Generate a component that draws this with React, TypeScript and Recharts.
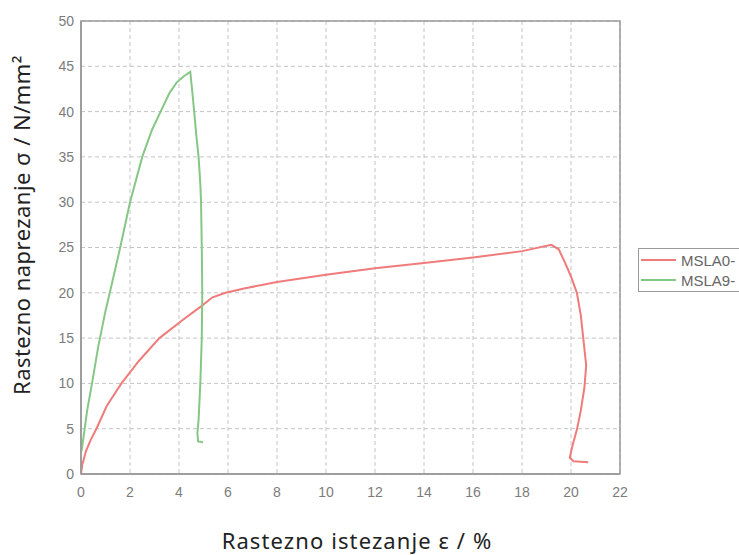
import React from "react";
import {
  CartesianGrid,
  Label,
  Legend,
  Line,
  LineChart,
  ReferenceArea,
  XAxis,
  YAxis,
} from "recharts";

// strain (%) vs stress (N/mm²)
const msla0Strain = [
  0, 0.05, 0.2, 0.4, 0.63, 1.05, 1.65, 2.37, 3.2, 4.15, 4.9, 5.37, 5.9, 6.7,
  8, 10, 12, 14, 16, 18, 19.2, 19.5, 19.76, 20.0, 20.24, 20.4, 20.5, 20.62,
  20.55, 20.4, 20.24, 20.05, 19.95, 20.1, 20.7,
];
const msla0Stress = [
  0, 1, 2.5, 3.8, 5, 7.5, 10, 12.5, 15, 17, 18.5, 19.5, 20, 20.5, 21.2, 22,
  22.7, 23.3, 23.9, 24.6, 25.3, 24.8, 23.3, 21.8, 20, 17.5, 15, 12, 9.6, 7,
  4.9, 3, 1.8, 1.4, 1.3,
];

const msla9Strain = [
  0.02, 0.1, 0.25, 0.45, 0.7, 1.0, 1.26, 1.6, 2.0, 2.5, 2.9, 3.25, 3.6, 3.9,
  4.2, 4.46, 4.55, 4.62, 4.72, 4.8, 4.87, 4.9, 4.93, 4.95, 4.93, 4.87, 4.8,
  4.75, 4.78, 4.98,
];
const msla9Stress = [
  2.5, 4, 7, 10, 14, 18, 21, 25, 30, 35, 38, 40, 42, 43.2, 43.9, 44.4, 42, 40,
  37, 35, 32, 30, 25, 20, 15, 10, 6, 4.5, 3.6, 3.5,
];

const xTicks = [0, 2, 4, 6, 8, 10, 12, 14, 16, 18, 20, 22];
const yTicks = [0, 5, 10, 15, 20, 25, 30, 35, 40, 45, 50];

const seriesNames = ["MSLA0-", "MSLA9-"];
const seriesColors = ["#f07b7b", "#85c785"];

const toPoints = (xs: number[], ys: number[]) =>
  xs.map((x, i) => ({ x, y: ys[i] }));

const msla0 = toPoints(msla0Strain, msla0Stress);
const msla9 = toPoints(msla9Strain, msla9Stress);

const tickStyle = {
  fontSize: 14,
  fill: "#7c7c7c",
  fontFamily: "Liberation Sans, Arial, sans-serif",
};

const LegendBox = () => (
  <div
    style={{
      border: "1.5px solid #9a9a9a",
      background: "#fff",
      width: 130,
      height: 44,
      boxSizing: "border-box",
      fontFamily: "Liberation Sans, Arial, sans-serif",
      fontSize: 15,
      color: "#666",
      paddingTop: 1,
    }}
  >
    {seriesNames.map((name, i) => (
      <div
        key={name}
        style={{ display: "flex", alignItems: "center", height: 20 }}
      >
        <span
          style={{
            display: "inline-block",
            width: 35,
            height: 2,
            background: seriesColors[i],
            marginLeft: 2,
            marginRight: 5,
          }}
        />
        <span>{name}</span>
      </div>
    ))}
  </div>
);

export default function App() {
  return (
    <div
      style={{
        position: "absolute",
        left: 0,
        top: 0,
        width: 739,
        height: 555,
        overflow: "hidden",
        background: "#fff",
      }}
    >
      <LineChart
        width={739}
        height={555}
        margin={{ top: 21, right: 119, bottom: 0, left: 0 }}
      >
        <CartesianGrid stroke="#c4c4c4" strokeDasharray="4 3" />
        <XAxis
          type="number"
          dataKey="x"
          domain={[0, 22]}
          ticks={xTicks}
          allowDuplicatedCategory={false}
          height={81}
          axisLine={{ stroke: "#999", strokeWidth: 1.5 }}
          tickLine={false}
          tickMargin={7}
          tick={tickStyle}
        >
          <Label
            content={() => (
              <text
                x={357}
                y={549}
                textAnchor="middle"
                fontSize={22}
                letterSpacing={1.1}
                fill="#222"
                fontFamily="Noto Sans, sans-serif"
              >
                Rastezno istezanje ε / %
              </text>
            )}
          />
        </XAxis>
        <YAxis
          type="number"
          domain={[0, 50]}
          ticks={yTicks}
          width={81}
          axisLine={{ stroke: "#999", strokeWidth: 1.5 }}
          tickLine={false}
          tickMargin={1}
          tick={tickStyle}
        >
          <Label
            content={() => (
              <text
                x={24}
                y={225}
                textAnchor="middle"
                dominantBaseline="middle"
                fontSize={22}
                letterSpacing={0.45}
                fill="#222"
                fontFamily="Noto Sans, sans-serif"
                transform="rotate(-90 24 225)"
              >
                Rastezno naprezanje σ / N/mm²
              </text>
            )}
          />
        </YAxis>
        <ReferenceArea
          x1={0}
          x2={22}
          y1={0}
          y2={50}
          fill="none"
          stroke="#999"
          strokeWidth={1.5}
        />
        <Legend
          layout="horizontal"
          verticalAlign="middle"
          align="center"
          content={() => <LegendBox />}
          wrapperStyle={{ position: "absolute", left: 638, top: 248, width: 130 }}
        />
        <Line
          data={msla0}
          dataKey="y"
          name={seriesNames[0]}
          stroke={seriesColors[0]}
          strokeWidth={2}
          dot={false}
          isAnimationActive={false}
        />
        <Line
          data={msla9}
          dataKey="y"
          name={seriesNames[1]}
          stroke={seriesColors[1]}
          strokeWidth={2}
          dot={false}
          isAnimationActive={false}
        />
      </LineChart>
    </div>
  );
}
